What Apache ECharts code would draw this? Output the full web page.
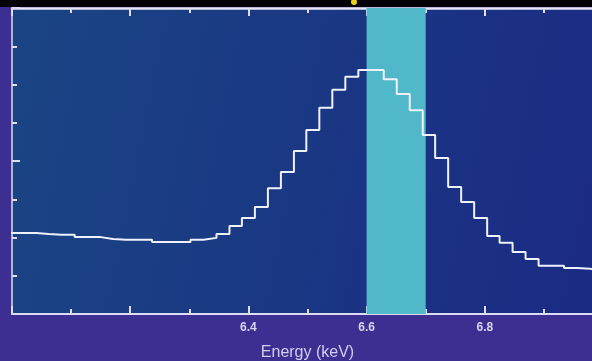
<!DOCTYPE html>
<html>
<head>
<meta charset="utf-8">
<script src="https://cdn.jsdelivr.net/npm/echarts@6/dist/echarts.min.js"></script>
<style>
  html, body { margin: 0; padding: 0; background: #3d2e92; }
  #chart { width: 592px; height: 361px; }
</style>
</head>
<body>
<div id="chart"></div>
<script>
// Lower edges of the spectrum channels (keV); the last entry closes the final channel.
const binEdges = [
  5.997, 6.019, 6.041, 6.062, 6.084, 6.106, 6.128, 6.150, 6.171, 6.193,
  6.215, 6.237, 6.259, 6.280, 6.302, 6.324, 6.346, 6.368, 6.389, 6.411,
  6.433, 6.455, 6.477, 6.498, 6.520, 6.542, 6.564, 6.586, 6.607, 6.629,
  6.651, 6.673, 6.695, 6.716, 6.738, 6.760, 6.782, 6.804, 6.825, 6.847,
  6.869, 6.891, 6.913, 6.934, 6.956, 6.978, 7.000
];
// Counts per channel (arbitrary units)
const counts = [
  2.12, 2.12, 2.09, 2.07, 2.07, 2.01, 2.01, 1.96, 1.94, 1.94,
  1.94, 1.88, 1.88, 1.88, 1.94, 1.99, 2.09, 2.30, 2.51, 2.80,
  3.29, 3.71, 4.26, 4.81, 5.39, 5.86, 6.20, 6.38, 6.38, 6.14,
  5.75, 5.33, 4.68, 4.08, 3.32, 2.93, 2.51, 2.04, 1.86, 1.62,
  1.44, 1.26, 1.26, 1.20, 1.18, 1.15
];
// Highlighted energy window (keV)
const bandRange = [6.6, 6.7];
// Tick labels printed under the energy axis
const shownTickLabels = ['6.4', '6.6', '6.8'];

// Step outline: each channel holds its level until the next edge.
const stepData = counts.map((c, i) => [binEdges[i], c]);
stepData.push([binEdges[binEdges.length - 1], counts[counts.length - 1]]);

const axisColor = '#dcdcf2';
const chart = echarts.init(document.getElementById('chart'));

chart.setOption({
  backgroundColor: '#3d2e92',
  animation: false,
  graphic: [
    { type: 'rect', shape: { x: 0, y: 0, width: 592, height: 7 }, style: { fill: '#050308' }, z: 100 },
    { type: 'circle', shape: { cx: 354, cy: 2, r: 3 }, style: { fill: '#e8d21c' }, z: 101 }
  ],
  grid: {
    left: 12, top: 8, right: -11, bottom: 47,
    outerBoundsMode: 'none',
    containLabel: false,
    show: true,
    borderWidth: 0,
    backgroundColor: new echarts.graphic.LinearGradient(0, 0, 1, 0.4, [
      { offset: 0, color: '#1a4584' },
      { offset: 0.5, color: '#1a3883' },
      { offset: 1, color: '#1b2b84' }
    ])
  },
  xAxis: [
    {
      type: 'value',
      min: 6.0, max: 7.0, interval: 0.2,
      position: 'bottom',
      name: 'Energy (keV)',
      nameLocation: 'middle',
      nameGap: 31,
      nameTextStyle: { color: '#cfd0ee', fontSize: 16, fontFamily: 'Liberation Sans, Arial, sans-serif' },
      axisLine: { show: true, onZero: false, lineStyle: { color: axisColor, width: 2 } },
      axisTick: { show: true, inside: true, length: 8, lineStyle: { color: axisColor, width: 2 } },
      minorTick: { show: true, splitNumber: 2, length: 5, lineStyle: { color: axisColor, width: 2 } },
      axisLabel: {
        color: '#d6d6ee', fontSize: 12, fontWeight: 'bold', margin: 8,
        fontFamily: 'Liberation Sans, Arial, sans-serif',
        formatter: v => {
          const s = v.toFixed(1);
          return shownTickLabels.includes(s) ? s : '';
        }
      },
      splitLine: { show: false }
    },
    {
      type: 'value',
      min: 6.0, max: 7.0, interval: 0.2,
      position: 'top',
      axisLine: { show: true, onZero: false, lineStyle: { color: '#e6e6f6', width: 2.5 } },
      axisTick: { show: true, inside: true, length: 8, lineStyle: { color: axisColor, width: 2 } },
      minorTick: { show: true, splitNumber: 2, length: 5, lineStyle: { color: axisColor, width: 2 } },
      axisLabel: { show: false },
      splitLine: { show: false }
    }
  ],
  yAxis: {
    type: 'value',
    min: 0, max: 8, interval: 4,
    axisLine: { show: true, onZero: false, lineStyle: { color: axisColor, width: 1.5 } },
    axisTick: { show: true, inside: true, length: 8, lineStyle: { color: axisColor, width: 2 } },
    minorTick: { show: true, splitNumber: 4, length: 5, lineStyle: { color: axisColor, width: 2 } },
    axisLabel: { show: false },
    splitLine: { show: false }
  },
  series: [
    {
      type: 'line',
      step: 'end',
      data: stepData,
      showSymbol: false,
      clip: true,
      lineStyle: { color: '#eef2fb', width: 2 },
      markArea: {
        silent: true,
        itemStyle: { color: '#50b8c8', opacity: 1 },
        data: [[{ xAxis: bandRange[0] }, { xAxis: bandRange[1] }]]
      },
      z: 3
    }
  ]
});
</script>
</body>
</html>
